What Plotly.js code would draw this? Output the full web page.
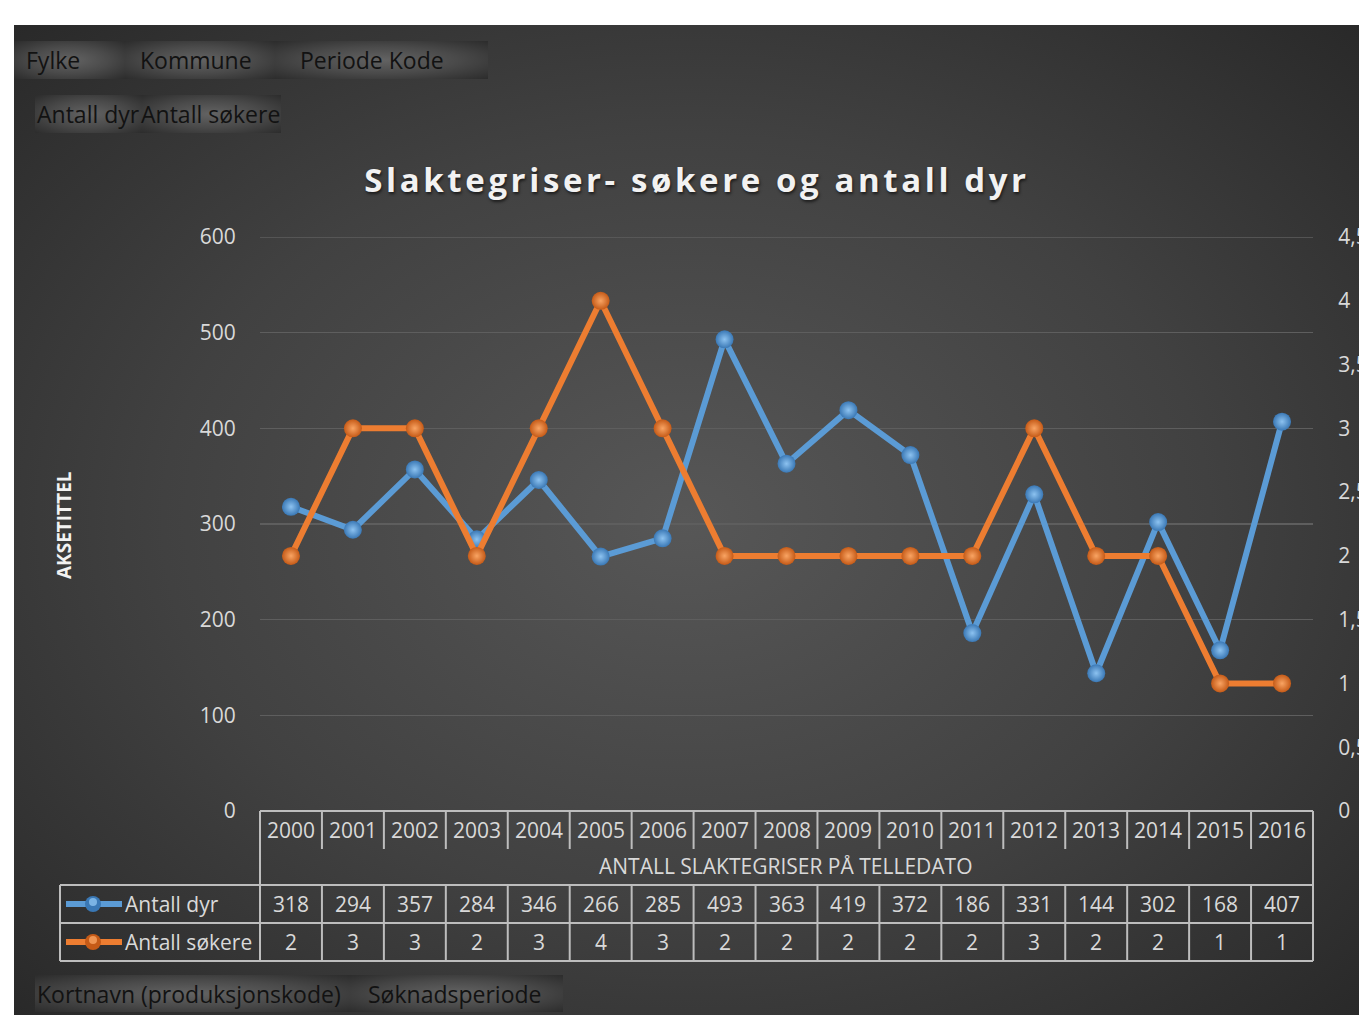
<!DOCTYPE html>
<html>
<head>
<meta charset="utf-8">
<script src="https://cdn.plot.ly/plotly-3.0.1.min.js"></script>
<style>
  html, body { margin: 0; padding: 0; background: #ffffff; width: 1359px; height: 1015px; overflow: hidden; }
  #bg { position: absolute; left: 14px; top: 25px; width: 1345px; height: 990px;
        background: radial-gradient(ellipse farthest-corner at 50% 50%, #575757 0%, #414141 55%, #292929 100%); }
  .btn { position: absolute; height: 38px; }
  .g { background: radial-gradient(ellipse at 50% 50%, #636363 0%, #4a4a4a 50%, #2c2c2c 100%); }
  #chart { position: absolute; left: 0; top: 0; width: 1359px; height: 1015px; }
  .gtitle { letter-spacing: 3.6px; }
</style>
</head>
<body>
<div id="bg"></div>
<div class="btn" style="left:14px;top:41px;width:474px;background:#2b2b2b;"></div>
<div class="btn g" style="left:14px;top:41px;width:111px;"></div>
<div class="btn g" style="left:125px;top:41px;width:150px;"></div>
<div class="btn g" style="left:275px;top:41px;width:213px;"></div>
<div class="btn g" style="left:35px;top:95px;width:107px;"></div>
<div class="btn g" style="left:142px;top:95px;width:139px;"></div>
<div class="btn g" style="left:35px;top:975px;width:315px;height:37px;"></div>
<div class="btn g" style="left:350px;top:975px;width:213px;height:37px;"></div>
<div id="chart"></div>
<script>
// ---- data ----
const years = ["2000","2001","2002","2003","2004","2005","2006","2007","2008","2009","2010","2011","2012","2013","2014","2015","2016"];
const antallDyr = [318, 294, 357, 284, 346, 266, 285, 493, 363, 419, 372, 186, 331, 144, 302, 168, 407];
const antallSokere = [2, 3, 3, 2, 3, 4, 3, 2, 2, 2, 2, 2, 3, 2, 2, 1, 1];
const seriesNames = ["Antall dyr", "Antall søkere"];
const chartTitle = "Slaktegriser- søkere og antall dyr";
const axisTitle = "AKSETITTEL";
const categoryTitle = "ANTALL SLAKTEGRISER PÅ TELLEDATO";
const topButtons = ["Fylke", "Kommune", "Periode Kode"];
const valueButtons = ["Antall dyr", "Antall søkere"];
const bottomButtons = ["Kortnavn (produksjonskode)", "Søknadsperiode"];

// ---- layout helpers ----
const W = 1359, H = 1015;
const px = x => x / W;
const py = y => 1 - y / H;
const FONT = "Open Sans, Noto Sans, sans-serif";
const TXT = "#d9d9d9";
const LINEC = "#bdbdbd";
const BLUE = "#5b9bd5", ORANGE = "#ed7d31";

const traces = [
  {
    x: years, y: antallDyr, name: seriesNames[0], type: "scatter", mode: "lines+markers",
    yaxis: "y", line: { color: BLUE, width: 6 },
    marker: { size: 18, color: "#3a78b5", gradient: { type: "radial", color: "#8cc2f0" } },
    showlegend: false
  },
  {
    x: years, y: antallSokere, name: seriesNames[1], type: "scatter", mode: "lines+markers",
    yaxis: "y2", line: { color: ORANGE, width: 6 },
    marker: { size: 18, color: "#c55a17", gradient: { type: "radial", color: "#f9a463" } },
    showlegend: false
  }
];

const shapes = [];
const ann = [];
// top gridline at 600 (edge of range)
shapes.push({ type: "line", xref: "paper", yref: "y", x0: px(260), x1: px(1313), y0: 600, y1: 600, line: { color: "#5e5e5e", width: 1.5 }, layer: "below" });
function hline(y, x0, x1) {
  shapes.push({ type: "line", xref: "paper", yref: "paper", x0: px(x0), x1: px(x1), y0: py(y), y1: py(y), line: { color: LINEC, width: 2 } });
}
function vlinePx(x, y0, y1) {
  shapes.push({ type: "line", xref: "paper", yref: "paper", x0: px(x), x1: px(x), y0: py(y0), y1: py(y1), line: { color: LINEC, width: 2 } });
}
function vlineCat(i, y0, y1) {
  shapes.push({ type: "line", xref: "x", yref: "paper", x0: i - 0.5, x1: i - 0.5, y0: py(y0), y1: py(y1), line: { color: LINEC, width: 2 } });
}
// table frame
hline(811, 260, 1313);
hline(885, 60, 1313);
hline(923, 60, 1313);
hline(961, 60, 1313);
vlinePx(260, 811, 961);
vlinePx(60, 885, 961);
vlinePx(1313, 811, 961);
for (let i = 1; i < years.length; i++) {
  vlineCat(i, 811, 849);
  vlineCat(i, 885, 961);
}
// legend keys in table
function key(y, col, dark, light) {
  shapes.push({ type: "line", xref: "paper", yref: "paper", x0: px(66), x1: px(122), y0: py(y), y1: py(y), line: { color: col, width: 6 } });
  shapes.push({ type: "circle", xref: "paper", yref: "paper", x0: px(85), x1: px(101), y0: py(y + 8), y1: py(y - 8), fillcolor: dark, line: { width: 0 } });
  shapes.push({ type: "circle", xref: "paper", yref: "paper", x0: px(89), x1: px(97), y0: py(y + 2), y1: py(y - 6), fillcolor: light, line: { width: 0 }, opacity: 0.8 });
}
key(904, BLUE, "#3a78b5", "#8cc2f0");
key(942, ORANGE, "#c55a17", "#f9a463");

// table text (x as category index)
const tf = { family: FONT, size: 21, color: TXT };
years.forEach((yr, i) => {
  ann.push({ x: i, xref: "x", y: py(830), yref: "paper", text: yr, showarrow: false, font: tf, xanchor: "center", yanchor: "middle" });
  ann.push({ x: i, xref: "x", y: py(904), yref: "paper", text: String(antallDyr[i]), showarrow: false, font: tf, xanchor: "center", yanchor: "middle" });
  ann.push({ x: i, xref: "x", y: py(942), yref: "paper", text: String(antallSokere[i]), showarrow: false, font: tf, xanchor: "center", yanchor: "middle" });
});
ann.push({ x: px(786), xref: "paper", y: py(866), yref: "paper", text: categoryTitle, showarrow: false, font: tf, xanchor: "center", yanchor: "middle" });
ann.push({ x: px(123), xref: "paper", y: py(904), yref: "paper", text: seriesNames[0], showarrow: false, font: tf, xanchor: "left", yanchor: "middle" });
ann.push({ x: px(123), xref: "paper", y: py(942), yref: "paper", text: seriesNames[1], showarrow: false, font: tf, xanchor: "left", yanchor: "middle" });

// axis title
ann.push({ x: px(64), xref: "paper", y: py(525), yref: "paper", text: axisTitle, textangle: -90, showarrow: false,
           font: { family: FONT, size: 19, color: "#f2f2f2", weight: "bold" }, xanchor: "center", yanchor: "middle" });

// pivot buttons
const bf = { family: FONT, size: 23, color: "#121212" };
const topX = [24, 138, 298];
topButtons.forEach((t, i) => ann.push({ x: px(topX[i]), xref: "paper", y: py(60), yref: "paper", text: t, showarrow: false, font: bf, xanchor: "left", yanchor: "middle" }));
const valX = [35, 139];
valueButtons.forEach((t, i) => ann.push({ x: px(valX[i]), xref: "paper", y: py(114), yref: "paper", text: t, showarrow: false, font: bf, xanchor: "left", yanchor: "middle" }));
const botX = [35, 366];
bottomButtons.forEach((t, i) => ann.push({ x: px(botX[i]), xref: "paper", y: py(994), yref: "paper", text: t, showarrow: false, font: bf, xanchor: "left", yanchor: "middle" }));

const layout = {
  width: W, height: H,
  margin: { l: 0, r: 0, t: 0, b: 0, pad: 0 },
  paper_bgcolor: "rgba(0,0,0,0)",
  plot_bgcolor: "rgba(0,0,0,0)",
  separators: ", ",
  title: {
    text: chartTitle, x: px(697), xref: "paper", xanchor: "center", y: py(180), yref: "paper", yanchor: "middle",
    font: { family: FONT, size: 33, color: "#f2f2f2", weight: "bold", shadow: "1px 2px 3px rgba(0,0,0,0.6)" }
  },
  xaxis: {
    type: "category", domain: [px(260), px(1313)], range: [-0.5, years.length - 0.5],
    showticklabels: false, showgrid: false, zeroline: false, showline: false, ticks: "", fixedrange: true
  },
  yaxis: {
    domain: [py(811), py(237)], range: [0, 600], dtick: 100, tick0: 0,
    showgrid: true, gridcolor: "#5e5e5e", gridwidth: 1.5, zeroline: false, showline: false,
    ticks: "outside", ticklen: 19, tickcolor: "rgba(0,0,0,0)",
    tickfont: { family: FONT, size: 21, color: TXT }
  },
  yaxis2: {
    overlaying: "y", side: "right", range: [0, 4.5], dtick: 0.5, tick0: 0,
    showgrid: false, zeroline: false, showline: false,
    ticks: "outside", ticklen: 20, tickcolor: "rgba(0,0,0,0)",
    tickfont: { family: FONT, size: 21, color: TXT }
  },
  shapes: shapes,
  annotations: ann
};

Plotly.newPlot("chart", traces, layout, { displayModeBar: false, staticPlot: true });
</script>
</body>
</html>
